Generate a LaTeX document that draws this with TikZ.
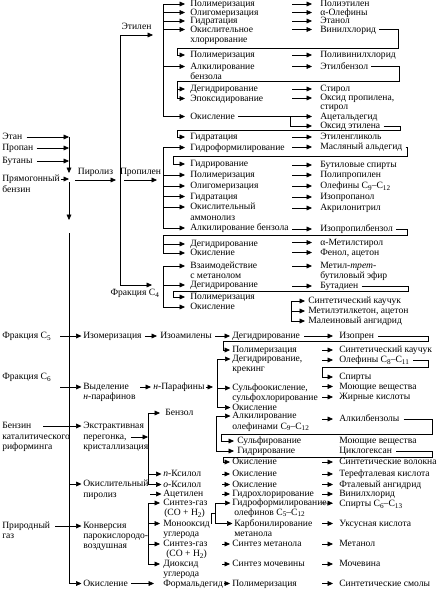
\documentclass[tikz,border=0pt]{standalone}
\usepackage{fontspec}
\setmainfont{Liberation Serif}
\usetikzlibrary{arrows.meta,calc,positioning}
\newcommand{\sbs}[1]{\raisebox{-1.8pt}{\fontsize{7.2}{7.2}\selectfont #1}}
\begin{document}
\begin{tikzpicture}[x=1pt,y=-1pt,line width=0.6pt,>={Triangle[length=5.5pt,width=4.8pt]},
  lb/.style={anchor=west,inner sep=0pt,text height=7pt,text depth=2pt,font=\fontsize{9.6}{11}\selectfont}]
\useasboundingbox (0,0) rectangle (437,589);
% feedstocks
\node[lb] (etan) at (2,137) {Этан};
\node[lb] (propan) at (2,148) {Пропан};
\node[lb] (butany) at (2,161) {Бутаны};
\node[lb] (prbenz) at (2,179) {Прямогонный};
\node[lb] (prbenzb) at (2,190) {бензин};
\node[lb] (frc5) at (2,336) {Фракция C\sbs{5}};
\node[lb] (frc6) at (2,377) {Фракция C\sbs{6}};
\node[lb] (kat) at (2,426) {Бензин};
\node[lb] (katb) at (2,437) {каталитического};
\node[lb] (katc) at (2,447) {риформинга};
\node[lb] (gaz) at (2,526) {Природный};
\node[lb] (gazb) at (2,536) {газ};
\coordinate (tr0) at (69,137);
\coordinate (tr1) at (69,173);
\coordinate (tr2) at (69,182);
\coordinate (tr3) at (69,220);
\coordinate (tr4) at (69,233);
\path[->]
(etan) edge[shorten <=4pt] (tr0)
(propan) edge[shorten <=3pt] (tr0 |- propan)
(butany) edge[shorten <=4pt] (tr0 |- butany)
(prbenz) edge[shorten <=1pt] (tr0 |- prbenz)
(tr0) edge (tr1)
(tr2) edge (tr3);
% pyrolysis
\coordinate (pz0) at (75,180);
\coordinate (pz1) at (116,180);
\coordinate (vj) at (120,180);
\coordinate (etl) at (153,35);
\coordinate (fc4) at (152,285);
\coordinate (prp0) at (124,180);
\coordinate (prp1) at (157,180);
\path[->]
(pz0) edge node[lb,above=3.5pt] (lpz) {Пиролиз} (pz1)
(prp0) edge node[lb,above=3.5pt] (lprp) {Пропилен} (prp1);
\draw[->] (vj) |- node[lb,above=3.5pt,pos=0.75] (letl) {Этилен} (etl);
\draw[->] (vj) |- node[lb,below=3pt,pos=0.73] (lfc4) {Фракция C\sbs{4}} (fc4);
% ethylene
\node[lb] (p1) at (190,4) {Полимеризация};
\node[lb] (p2) at (190,12.5) {Олигомеризация};
\node[lb] (p3) at (190,21) {Гидратация};
\node[lb] (p4) at (190,29.5) {Окислительное};
\node[lb] (p4b) at (190,40) {хлорирование};
\node[lb] (p5) at (190,55) {Полимеризация};
\node[lb] (p6) at (190,66.5) {Алкилирование};
\node[lb] (p6b) at (190,77) {бензола};
\node[lb] (p7) at (190,89) {Дегидрирование};
\node[lb] (p8) at (190,98.5) {Эпоксидирование};
\node[lb] (p9) at (190,116.5) {Окисление};
\node[lb] (r1) at (320,4) {Полиэтилен};
\node[lb] (r2) at (320,12.5) {α-Олефины};
\node[lb] (r3) at (320,21) {Этанол};
\node[lb] (r4) at (320,29.5) {Винилхлорид};
\node[lb] (r5) at (320,55) {Поливинилхлорид};
\node[lb] (r6) at (320,66.5) {Этилбензол};
\node[lb] (r7) at (320,89) {Стирол};
\node[lb] (r8) at (320,98) {Оксид пропилена,};
\node[lb] (r8b) at (320,107) {стирол};
\node[lb] (r9) at (320,116.5) {Ацетальдегид};
\node[lb] (r10) at (320,126) {Оксид этилена};
% propylene
\node[lb] (p10) at (190,137) {Гидратация};
\node[lb] (p11) at (190,147.5) {Гидроформилирование};
\node[lb] (p12) at (190,164) {Гидрирование};
\node[lb] (p13) at (190,175) {Полимеризация};
\node[lb] (p14) at (190,186) {Олигомеризация};
\node[lb] (p15) at (190,196.5) {Гидратация};
\node[lb] (p16) at (190,207) {Окислительный};
\node[lb] (p16b) at (190,217.5) {аммонолиз};
\node[lb] (p17) at (190,228) {Алкилирование бензола};
\node[lb] (p18) at (190,244) {Дегидрирование};
\node[lb] (p19) at (190,253) {Окисление};
\node[lb] (r11) at (320,137) {Этиленгликоль};
\node[lb] (r12) at (320,147) {Масляный альдегид};
\node[lb] (r13) at (320,165) {Бутиловые спирты};
\node[lb] (r14) at (320,175) {Полипропилен};
\node[lb] (r15) at (320,186) {Олефины C\sbs{9}–C\sbs{12}};
\node[lb] (r16) at (320,197) {Изопропанол};
\node[lb] (r17) at (320,208) {Акрилонитрил};
\node[lb] (r18) at (320,229) {Изопропилбензол};
\node[lb] (r19) at (320,242.5) {α-Метилстирол};
\node[lb] (r20) at (320,252.5) {Фенол, ацетон};
% C4 fraction
\node[lb] (p20) at (190,266) {Взаимодействие};
\node[lb] (p20b) at (190,276) {с метанолом};
\node[lb] (p21) at (190,285) {Дегидрирование};
\node[lb] (p22) at (190,297) {Полимеризация};
\node[lb] (p23) at (190,307) {Окисление};
\node[lb] (r21) at (320,266) {Метил-\textit{трет}-};
\node[lb] (r21b) at (320,276) {бутиловый эфир};
\node[lb] (r22) at (320,286) {Бутадиен};
\node[lb] (r23) at (308,301) {Синтетический каучук};
\node[lb] (r24) at (308,311) {Метилэтилкетон, ацетон};
\node[lb] (r25) at (308,321) {Малеиновый ангидрид};
\coordinate (mA) at (292,0);
\coordinate (bE0) at (163,4);
\coordinate (bE1) at (163,116.5);
\coordinate (bP0) at (163,147.5);
\coordinate (bP1) at (163,228);
\coordinate (bC0) at (163,266);
\coordinate (bC1) at (163,307);
\coordinate (bF0) at (291,301);
\coordinate (bF1) at (291,321);
\coordinate (ok0) at (290,116.5);
\coordinate (ok1) at (290,126);
\draw (bE0) -- (bE1) (bP0) -- (bP1) (bC0) -- (bC1) (bF0) -- (bF1);
\draw[shorten <=3pt] (p9) -- (ok0) -- (ok1);
\path[->,shorten >=5pt]
(bE0 |- p1) edge (p1)
(bE0 |- p2) edge (p2)
(bE0 |- p3) edge (p3)
(bE0 |- p4) edge (p4)
(bE0 |- p6) edge (p6)
(bE0 |- p9) edge (p9)
(bP0 |- p11) edge (p11)
(bP0 |- p13) edge (p13)
(bP0 |- p14) edge (p14)
(bP0 |- p15) edge (p15)
(bP0 |- p16) edge (p16)
(bP0 |- p17) edge (p17)
(bC0 |- p20) edge (p20)
(bC0 |- p21) edge (p21)
(bC0 |- p23) edge (p23);
\path[->,shorten >=8pt]
(mA |- r1) edge (r1)
(mA |- r2) edge (r2)
(mA |- r3) edge (r3)
(mA |- r4) edge (r4)
(mA |- r5) edge (r5)
(mA |- r6) edge (r6)
(mA |- r7) edge (r7)
(mA |- r8) edge (r8)
(ok0) edge (r9)
(ok1) edge (r10)
(mA |- r11) edge (r11)
(mA |- r12) edge (r12)
(mA |- r13) edge (r13)
(mA |- r14) edge (r14)
(mA |- r15) edge (r15)
(mA |- r16) edge (r16)
(mA |- r17) edge (r17)
(mA |- r18) edge (r18)
(mA |- r19) edge (r19)
(mA |- r20) edge (r20)
(mA |- r21) edge (r21)
(mA |- r22) edge (r22);
\path[->,shorten >=3pt]
(bF0) edge (r23)
(bF0 |- r24) edge (r24)
(bF1) edge (r25);
% return loops
\coordinate (lp1) at (398,48);
\coordinate (lp1b) at (177,48);
\coordinate (lp2) at (399,81.5);
\coordinate (lp2b) at (177,81.5);
\coordinate (lp3) at (400,130.5);
\coordinate (lp3b) at (177,130.5);
\coordinate (lp4) at (407,156);
\coordinate (lp4b) at (173,156);
\coordinate (lp5) at (407,235);
\coordinate (lp5b) at (163,235);
\coordinate (lp6) at (408,291);
\coordinate (lp6b) at (173,291);
\draw[->,shorten <=3pt,shorten >=5pt] (r4) -| (lp1) -- (lp1b) |- (p5);
\draw[->,shorten <=3pt,shorten >=5pt] (r6) -| (lp2) -- (lp2b) |- (p8);
\draw[->,shorten <=3pt,shorten >=5pt] (r10) -| (lp3) -- (lp3b) |- (p10);
\draw[->,shorten <=3pt,shorten >=5pt] (r12) -| (lp4) -- (lp4b) |- (p12);
\draw[->,shorten <=3pt,shorten >=5pt] (r18) -| (lp5) -- (lp5b) |- (p19);
\draw[->,shorten <=3pt,shorten >=5pt] (r22) -| (lp6) -- (lp6b) |- (p22);
\path[->,shorten >=5pt]
(lp2b |- p7) edge (p7)
(lp5b |- p18) edge (p18);
% lower part
\node[lb] (i1) at (83,336) {Изомеризация};
\node[lb] (i2) at (160,336) {Изоамилены};
\node[lb] (i3) at (232,336) {Дегидрирование};
\node[lb] (i4) at (339,336) {Изопрен};
\node[lb] (i5) at (232,350) {Полимеризация};
\node[lb] (i6) at (339,350) {Синтетический каучук};
\node[lb] (n1) at (83,387) {Выделение};
\node[lb] (n1b) at (83,397) {\textit{н}-парафинов};
\node[lb] (n2) at (153,387) {\textit{н}-Парафины};
\node[lb] (n3) at (232,359) {Дегидрирование,};
\node[lb] (n3b) at (232,369) {крекинг};
\node[lb] (n4) at (232,388) {Сульфоокисление,};
\node[lb] (n4b) at (232,397.5) {сульфохлорирование};
\node[lb] (n5) at (232,407.5) {Окисление};
\node[lb] (n6) at (339,360) {Олефины C\sbs{8}–C\sbs{11}};
\node[lb] (n7) at (339,377) {Спирты};
\node[lb] (n8) at (339,386.5) {Моющие вещества};
\node[lb] (n9) at (339,397) {Жирные кислоты};
\node[lb] (x1) at (83,426) {Экстрактивная};
\node[lb] (x1b) at (83,437) {перегонка,};
\node[lb] (x1c) at (83,447) {кристаллизация};
\node[lb] (x2) at (165,413) {Бензол};
\node[lb] (a1) at (232,416) {Алкилирование};
\node[lb] (a1b) at (232,426.5) {олефинами C\sbs{9}–C\sbs{12}};
\node[lb] (a2) at (339,419) {Алкилбензолы};
\node[lb] (a3) at (237,441) {Сульфирование};
\node[lb] (a4) at (339,441) {Моющие вещества};
\node[lb] (a5) at (237,451) {Гидрирование};
\node[lb] (a6) at (339,451) {Циклогексан};
\node[lb] (a7) at (232,462) {Окисление};
\node[lb] (a8) at (339,462) {Синтетические волокна};
\node[lb] (o1) at (83,484) {Окислительный};
\node[lb] (o1b) at (83,495) {пиролиз};
\node[lb] (x3) at (163,474) {\textit{п}-Ксилол};
\node[lb] (x4) at (163,484.5) {\textit{о}-Ксилол};
\node[lb] (x5) at (163,494) {Ацетилен};
\node[lb] (a9) at (232,474) {Окисление};
\node[lb] (a10) at (339,474) {Терефталевая кислота};
\node[lb] (a11) at (232,484.5) {Окисление};
\node[lb] (a12) at (339,484.5) {Фталевый ангидрид};
\node[lb] (a13) at (232,494) {Гидрохлорирование};
\node[lb] (a14) at (339,494) {Винилхлорид};
\node[lb] (k1) at (83,526) {Конверсия};
\node[lb] (k1b) at (83,536) {парокислородо-};
\node[lb] (k1c) at (83,546) {воздушная};
\node[lb] (s1) at (163,503) {Синтез-газ};
\node[lb] (s1b) at (164,513) {(CO + H\sbs{2})};
\node[lb] (s2) at (163,523.5) {Монооксид};
\node[lb] (s2b) at (163,533.5) {углерода};
\node[lb] (s3) at (163,544) {Синтез-газ};
\node[lb] (s3b) at (166,554) {(CO + H\sbs{2})};
\node[lb] (s4) at (163,564) {Диоксид};
\node[lb] (s4b) at (163,573.5) {углерода};
\node[lb] (h1) at (232,503) {Гидроформилирование};
\node[lb] (h1b) at (234,512.5) {олефинов C\sbs{5}–C\sbs{12}};
\node[lb] (h2) at (339,504) {Спирты C\sbs{6}–C\sbs{13}};
\node[lb] (h3) at (234,523.5) {Карбонилирование};
\node[lb] (h3b) at (234,533.5) {метанола};
\node[lb] (h4) at (339,523.5) {Уксусная кислота};
\node[lb] (h5) at (232,544) {Синтез метанола};
\node[lb] (h6) at (339,544) {Метанол};
\node[lb] (h7) at (232,564) {Синтез мочевины};
\node[lb] (h8) at (339,564) {Мочевина};
\node[lb] (w1) at (83,583.5) {Окисление};
\node[lb] (w2) at (163,583.5) {Формальдегид};
\node[lb] (w3) at (232,583.5) {Полимеризация};
\node[lb] (w4) at (339,583.5) {Синтетические смолы};
\coordinate (c5) at (60,336);
\coordinate (c6) at (60,387);
\coordinate (cb) at (43,426);
\coordinate (cg) at (55,526);
\coordinate (ac) at (150,494);
\coordinate (mB) at (322,0);
\coordinate (mC) at (222,0);
\coordinate (bN0) at (217,359);
\coordinate (bN1) at (217,407.5);
\coordinate (bB0) at (148,413);
\coordinate (bB1) at (148,484.5);
\coordinate (bK0) at (148,503);
\coordinate (bK1) at (148,564);
\coordinate (bZ0) at (216,416);
\coordinate (bZ1) at (216,451);
\coordinate (bH0) at (215,503);
\coordinate (bH1) at (215,523.5);
\coordinate (mo1) at (211,513);
\coordinate (mo2) at (215,513);
\draw (bN0) -- (bN1) (bB0) -- (bB1) (bK0) -- (bK1) (bZ0) -- (bZ1) (bH0) -- (bH1);
\draw[shorten <=2pt] (s2) -| (mo1) -- (mo2);
\draw[->,shorten >=1.5pt] (tr4) |- (w1);
\path[->,shorten >=1.5pt]
(c5) edge (i1)
(c6) edge (n1)
(cb) edge (x1)
(tr4 |- o1) edge (o1)
(cg) edge (k1)
(ac) edge (x5)
(bB0 |- x3) edge (x3)
(bB1) edge (x4)
(bN0) edge (n3)
(bN0 |- n4) edge (n4)
(bN1) edge (n5)
(bZ0) edge (a1)
(bH0) edge (h1)
(bH1) edge (h3);
\path[->]
(i1) edge[shorten <=3pt,shorten >=3pt] (i2)
(i2) edge[shorten <=3pt,shorten >=2pt] (i3)
(i3) edge[shorten <=4pt,shorten >=6pt] (i4)
(n1) edge[shorten <=11pt,shorten >=2pt] (n2)
(n2) edge[shorten <=1pt,shorten >=4pt] (bN0 |- n2)
(x1b) edge[shorten <=4pt] (bB0 |- x1b)
(bB0) edge[shorten >=5pt] (x2)
(bZ1) edge[shorten >=3pt] (a5)
(w1) edge[shorten <=3pt,shorten >=9pt] (w2)
(w2) edge[shorten <=1pt,shorten >=2pt] (w3);
\path[->,shorten >=3pt]
(bK0) edge (s1)
(bK0 |- s2) edge (s2)
(bK0 |- s3) edge (s3)
(bK1) edge (s4);
\path[->,shorten >=2pt]
(mC |- x3) edge (a9)
(mC |- x4) edge (a11)
(mC |- x5) edge (a13)
(mC |- s3) edge (h5)
(mC |- s4) edge (h7);
\path[->,shorten >=6pt]
(mB |- i6) edge (i6)
(mB |- n6) edge (n6)
(mB |- n8) edge (n8)
(mB |- n9) edge (n9)
(mB |- a2) edge (a2)
(mB |- a8) edge (a8)
(mB |- a10) edge (a10)
(mB |- a12) edge (a12)
(mB |- a14) edge (a14)
(mB |- h1) edge (h2)
(mB |- h4) edge (h4)
(mB |- h6) edge (h6)
(mB |- h8) edge (h8)
(mB |- w4) edge (w4);
\coordinate (lp7) at (428,341);
\coordinate (lp7b) at (223,341);
\coordinate (lp8) at (428,367);
\coordinate (lp8b) at (322,367);
\coordinate (lp9) at (432,434);
\coordinate (lp9b) at (221,434);
\coordinate (lp10) at (432,457);
\coordinate (lp10b) at (223,457);
\draw[->,shorten <=4pt,shorten >=2pt] (i4) -| (lp7) -- (lp7b) |- (i5);
\draw[->,shorten <=4pt,shorten >=6pt] (n6) -| (lp8) -- (lp8b) |- (n7);
\draw[->,shorten <=4pt,shorten >=3pt] (a2) -| (lp9) -- (lp9b) |- (a3);
\draw[->,shorten <=4pt,shorten >=2pt] (a6) -| (lp10) -- (lp10b) |- (a7);
\end{tikzpicture}
\end{document}
